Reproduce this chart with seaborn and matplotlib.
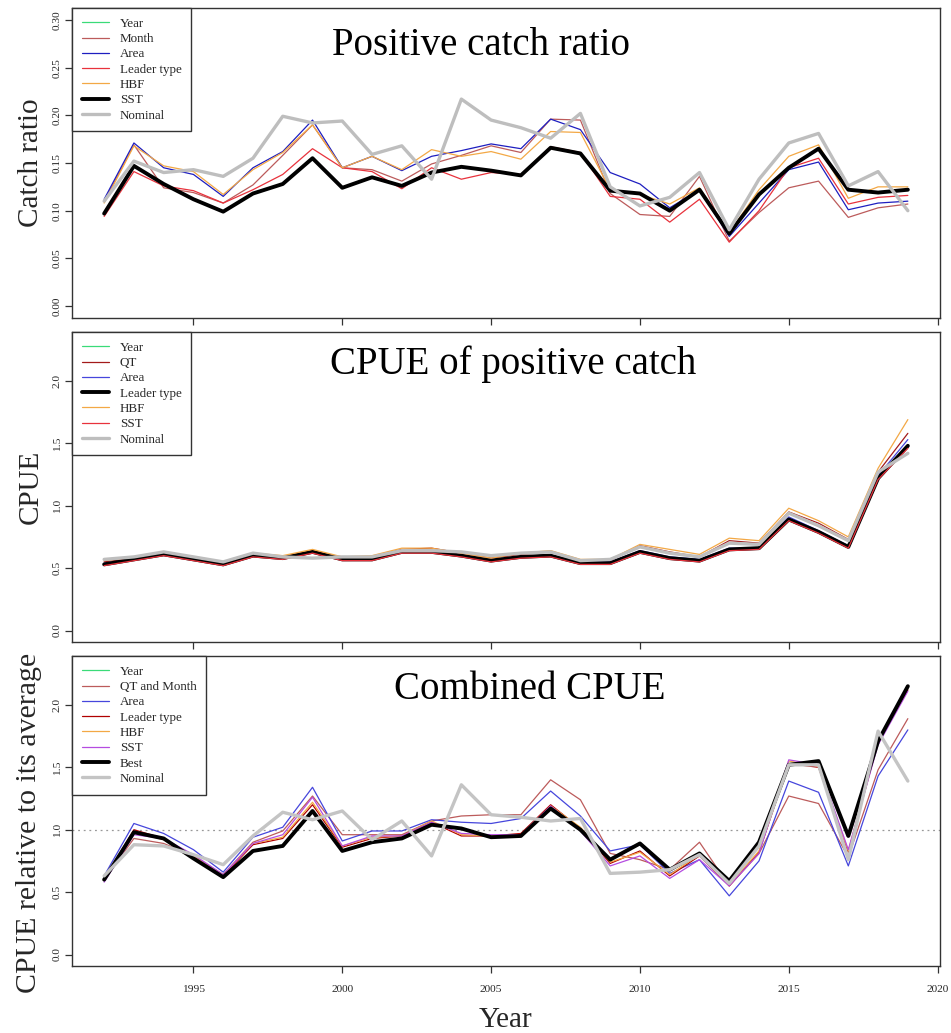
import matplotlib
matplotlib.use("Agg")
import matplotlib.pyplot as plt
import matplotlib.transforms as mtransforms
import seaborn as sns

# ---------------- data ----------------
years = list(range(1992, 2020))

# Positive catch ratio
ratio_year = [0.110, 0.152, 0.140, 0.143, 0.136, 0.155, 0.199, 0.192, 0.194, 0.159, 0.168, 0.133, 0.217, 0.195,
              0.187, 0.176, 0.202, 0.125, 0.105, 0.114, 0.140, 0.080, 0.133, 0.171, 0.181, 0.126, 0.141, 0.100]
ratio_month = [0.110, 0.169, 0.124, 0.119, 0.108, 0.127, 0.158, 0.190, 0.145, 0.143, 0.131, 0.149, 0.158, 0.168,
               0.161, 0.196, 0.195, 0.118, 0.096, 0.094, 0.136, 0.068, 0.098, 0.124, 0.131, 0.093, 0.103, 0.107]
ratio_area = [0.112, 0.171, 0.145, 0.138, 0.115, 0.145, 0.162, 0.195, 0.145, 0.157, 0.142, 0.157, 0.163, 0.170,
              0.165, 0.196, 0.185, 0.140, 0.128, 0.103, 0.122, 0.073, 0.108, 0.143, 0.151, 0.101, 0.108, 0.110]
ratio_leader = [0.094, 0.141, 0.126, 0.121, 0.108, 0.122, 0.138, 0.165, 0.145, 0.141, 0.123, 0.145, 0.133, 0.140,
                0.138, 0.167, 0.161, 0.115, 0.112, 0.088, 0.112, 0.067, 0.100, 0.145, 0.155, 0.107, 0.114, 0.116]
ratio_hbf = [0.108, 0.168, 0.147, 0.141, 0.117, 0.143, 0.161, 0.190, 0.145, 0.157, 0.143, 0.164, 0.157, 0.162,
             0.154, 0.183, 0.182, 0.122, 0.117, 0.107, 0.124, 0.077, 0.122, 0.157, 0.169, 0.113, 0.125, 0.125]
ratio_sst = [0.097, 0.147, 0.128, 0.112, 0.099, 0.118, 0.128, 0.155, 0.124, 0.135, 0.126, 0.140, 0.146, 0.142,
             0.137, 0.166, 0.160, 0.121, 0.118, 0.100, 0.122, 0.076, 0.117, 0.145, 0.165, 0.122, 0.119, 0.122]
ratio_nominal = [0.110, 0.152, 0.140, 0.143, 0.136, 0.155, 0.199, 0.192, 0.194, 0.159, 0.168, 0.133, 0.217, 0.195,
                 0.187, 0.176, 0.202, 0.125, 0.105, 0.114, 0.140, 0.080, 0.133, 0.171, 0.181, 0.126, 0.141, 0.100]

# CPUE of positive catch
pos_year = [0.57, 0.59, 0.63, 0.59, 0.55, 0.62, 0.59, 0.58, 0.59, 0.59, 0.64, 0.64, 0.63, 0.60,
            0.62, 0.63, 0.56, 0.57, 0.67, 0.62, 0.59, 0.70, 0.69, 0.94, 0.84, 0.72, 1.27, 1.42]
pos_qt = [0.55, 0.58, 0.62, 0.58, 0.54, 0.61, 0.59, 0.64, 0.58, 0.59, 0.65, 0.66, 0.62, 0.58,
          0.61, 0.63, 0.56, 0.56, 0.68, 0.63, 0.59, 0.72, 0.70, 0.95, 0.86, 0.73, 1.27, 1.58]
pos_area = [0.54, 0.57, 0.62, 0.57, 0.53, 0.60, 0.58, 0.63, 0.59, 0.59, 0.64, 0.63, 0.61, 0.57,
            0.59, 0.60, 0.55, 0.55, 0.64, 0.59, 0.57, 0.66, 0.66, 0.91, 0.80, 0.68, 1.24, 1.53]
pos_leader = [0.53, 0.57, 0.61, 0.57, 0.53, 0.60, 0.58, 0.63, 0.57, 0.57, 0.63, 0.63, 0.60, 0.56,
              0.59, 0.60, 0.54, 0.54, 0.63, 0.58, 0.56, 0.65, 0.66, 0.89, 0.79, 0.67, 1.22, 1.48]
pos_hbf = [0.56, 0.59, 0.63, 0.59, 0.55, 0.62, 0.60, 0.65, 0.59, 0.60, 0.66, 0.66, 0.62, 0.58,
           0.62, 0.64, 0.57, 0.57, 0.69, 0.65, 0.61, 0.74, 0.72, 0.98, 0.88, 0.75, 1.30, 1.69]
pos_sst = [0.52, 0.56, 0.60, 0.56, 0.52, 0.59, 0.57, 0.62, 0.56, 0.56, 0.62, 0.62, 0.59, 0.55,
           0.58, 0.59, 0.53, 0.53, 0.62, 0.57, 0.55, 0.64, 0.65, 0.88, 0.78, 0.66, 1.21, 1.46]
pos_nominal = [0.57, 0.59, 0.63, 0.59, 0.55, 0.62, 0.59, 0.58, 0.59, 0.59, 0.64, 0.64, 0.63, 0.60,
               0.62, 0.63, 0.56, 0.57, 0.67, 0.62, 0.59, 0.70, 0.69, 0.94, 0.84, 0.72, 1.27, 1.42]

# Combined CPUE (relative to its average)
comb_year = [0.63, 0.88, 0.87, 0.80, 0.72, 0.95, 1.14, 1.08, 1.15, 0.92, 1.07, 0.79, 1.36, 1.12,
             1.10, 1.07, 1.09, 0.65, 0.66, 0.68, 0.80, 0.57, 0.87, 1.52, 1.52, 0.76, 1.79, 1.39]
comb_qtm = [0.60, 0.93, 0.89, 0.79, 0.64, 0.90, 0.99, 1.27, 0.96, 0.96, 0.96, 1.07, 1.11, 1.12,
            1.12, 1.40, 1.24, 0.81, 0.76, 0.68, 0.90, 0.55, 0.81, 1.27, 1.21, 0.78, 1.48, 1.89]
comb_area = [0.63, 1.05, 0.97, 0.84, 0.66, 0.94, 1.02, 1.34, 0.91, 0.99, 0.99, 1.08, 1.06, 1.05,
             1.09, 1.31, 1.11, 0.83, 0.88, 0.65, 0.76, 0.47, 0.75, 1.39, 1.30, 0.71, 1.43, 1.80]
comb_leader = [0.60, 1.00, 0.93, 0.78, 0.63, 0.88, 0.93, 1.20, 0.86, 0.93, 0.95, 1.06, 0.95, 0.95,
               0.97, 1.20, 1.01, 0.73, 0.83, 0.63, 0.79, 0.55, 0.82, 1.53, 1.50, 0.82, 1.70, 2.12]
comb_hbf = [0.61, 0.98, 0.92, 0.79, 0.64, 0.89, 0.94, 1.22, 0.87, 0.94, 0.95, 1.07, 0.96, 0.95,
            0.96, 1.19, 1.02, 0.74, 0.82, 0.64, 0.80, 0.56, 0.83, 1.55, 1.51, 0.83, 1.71, 2.14]
comb_sst = [0.58, 0.96, 0.93, 0.80, 0.64, 0.89, 0.96, 1.26, 0.87, 0.95, 0.95, 1.06, 0.97, 0.96,
            0.96, 1.19, 0.99, 0.71, 0.79, 0.61, 0.76, 0.55, 0.81, 1.56, 1.52, 0.84, 1.68, 2.11]
comb_best = [0.60, 0.98, 0.93, 0.77, 0.62, 0.83, 0.87, 1.15, 0.83, 0.90, 0.93, 1.04, 1.01, 0.94,
             0.95, 1.17, 1.00, 0.76, 0.89, 0.68, 0.81, 0.59, 0.90, 1.52, 1.55, 0.95, 1.71, 2.15]
comb_nominal = [0.63, 0.88, 0.87, 0.80, 0.72, 0.95, 1.14, 1.08, 1.15, 0.92, 1.07, 0.79, 1.36, 1.12,
                1.10, 1.07, 1.09, 0.65, 0.66, 0.68, 0.80, 0.57, 0.87, 1.52, 1.52, 0.76, 1.79, 1.39]

x_ticks = [1995, 2000, 2005, 2010, 2015, 2020]
ratio_ticks = [0.00, 0.05, 0.10, 0.15, 0.20, 0.25, 0.30]
cpue_ticks = [0.0, 0.5, 1.0, 1.5, 2.0]

# ---------------- style ----------------
sns.set_theme(style="white")
plt.rcParams["font.family"] = ["Liberation Serif", "DejaVu Serif"]
plt.rcParams["axes.edgecolor"] = "#333333"
plt.rcParams["axes.linewidth"] = 1.0

GREEN = "#3ADB78"
ROSY = "#BC5B5B"
BLUE = "#1E1EC0"
BLUE2 = "#4646DC"
RED = "#E8323C"
DARKRED = "#A31A1A"
ORANGE = "#F3A845"
PURPLE = "#B54CE0"
GREY = "#BEBEBE"
THIN = 0.9
THICK = 2.8
GREYW = 2.4

fig = plt.figure(figsize=(9.51, 10.33), dpi=100)
W, H = 951.0, 1033.0
left, right = 72 / W, 940 / W
panel_px = [(8, 318), (332, 642), (656, 966)]
axes = []
for top, bot in panel_px:
    axes.append(fig.add_axes([left, 1 - bot / H, right - left, (bot - top) / H]))

panels = [
    dict(ax=axes[0], ylim=(-0.0125, 0.3125), yticks=ratio_ticks, fmt="{:.2f}",
         ylabel="Catch ratio", ysize=21, ypos=None, title="Positive catch ratio", tx=1999.65, ty=0.88,
         series=[("Year", ratio_year, GREEN, THIN), ("Month", ratio_month, ROSY, THIN),
                 ("Area", ratio_area, BLUE, THIN), ("Leader type", ratio_leader, RED, THIN),
                 ("HBF", ratio_hbf, ORANGE, THIN), ("SST", ratio_sst, "black", THICK),
                 ("Nominal", ratio_nominal, GREY, GREYW)]),
    dict(ax=axes[1], ylim=(-0.092, 2.392), yticks=cpue_ticks, fmt="{:.1f}",
         ylabel="CPUE", ysize=21, ypos=None, title="CPUE of positive catch", tx=1999.6, ty=0.895,
         series=[("Year", pos_year, GREEN, THIN), ("QT", pos_qt, DARKRED, THIN),
                 ("Area", pos_area, BLUE2, THIN), ("Leader type", pos_leader, "black", THICK),
                 ("HBF", pos_hbf, ORANGE, THIN), ("SST", pos_sst, RED, THIN),
                 ("Nominal", pos_nominal, GREY, GREYW)]),
    dict(ax=axes[2], ylim=(-0.092, 2.392), yticks=cpue_ticks, fmt="{:.1f}",
         ylabel="CPUE relative to its average", ysize=21.5, ypos=0.46,
         title="Combined CPUE", tx=2001.75, ty=0.893,
         series=[("Year", comb_year, GREEN, THIN), ("QT and Month", comb_qtm, ROSY, THIN),
                 ("Area", comb_area, BLUE2, THIN), ("Leader type", comb_leader, "#B00000", THIN),
                 ("HBF", comb_hbf, ORANGE, THIN), ("SST", comb_sst, PURPLE, THIN),
                 ("Best", comb_best, "black", THICK), ("Nominal", comb_nominal, "#C4C4C4", GREYW)]),
]

for i, p in enumerate(panels):
    ax = p["ax"]
    if i == 2:
        ax.axhline(1.0, color="#999999", lw=0.9, ls=(0, (1.5, 3)), zorder=1)
    for z, (lab, vals, col, lw) in enumerate(p["series"]):
        sns.lineplot(x=years, y=vals, ax=ax, color=col, linewidth=lw, label=lab,
                     zorder=2 + z, legend=False)
    ax.set_xlim(1990.92, 2020.08)
    ax.set_ylim(*p["ylim"])
    ax.set_xticks(x_ticks)
    ax.set_yticks(p["yticks"])
    ax.set_yticklabels([p["fmt"].format(v) for v in p["yticks"]], rotation=90, va="center")
    ax.tick_params(axis="both", direction="out", length=5, width=0.9, color="#333333",
                   labelsize=8.2, bottom=True, left=True)
    ax.tick_params(axis="y", pad=2.5)
    ax.tick_params(axis="x", pad=9)
    if i < 2:
        ax.tick_params(axis="x", labelbottom=False)
    ax.set_xlabel("")
    ax.set_ylabel(p["ylabel"], fontsize=p["ysize"], labelpad=6)
    if p["ypos"] is not None:
        ax.yaxis.set_label_coords(-0.034, p["ypos"])
    for s in ax.spines.values():
        s.set_visible(True)
        s.set_color("#333333")
        s.set_linewidth(1.0)
    trans = mtransforms.blended_transform_factory(ax.transData, ax.transAxes)
    ax.text(p["tx"], p["ty"], p["title"], transform=trans, fontsize=28,
            ha="left", va="center", color="black")
    leg = ax.legend(loc="upper left", bbox_to_anchor=(0, 1), borderaxespad=0,
                    frameon=True, fancybox=False, fontsize=9.4, handlelength=2.1,
                    handletextpad=0.8, labelspacing=0.24, borderpad=0.75)
    leg.get_frame().set_edgecolor("#333333")
    leg.get_frame().set_linewidth(1.0)
    leg.get_frame().set_facecolor("white")
    leg.get_frame().set_alpha(1.0)
    leg.set_zorder(20)

axes[2].set_xlabel("Year", fontsize=21, labelpad=9)

fig.savefig("out.png", dpi=100, facecolor="white")
